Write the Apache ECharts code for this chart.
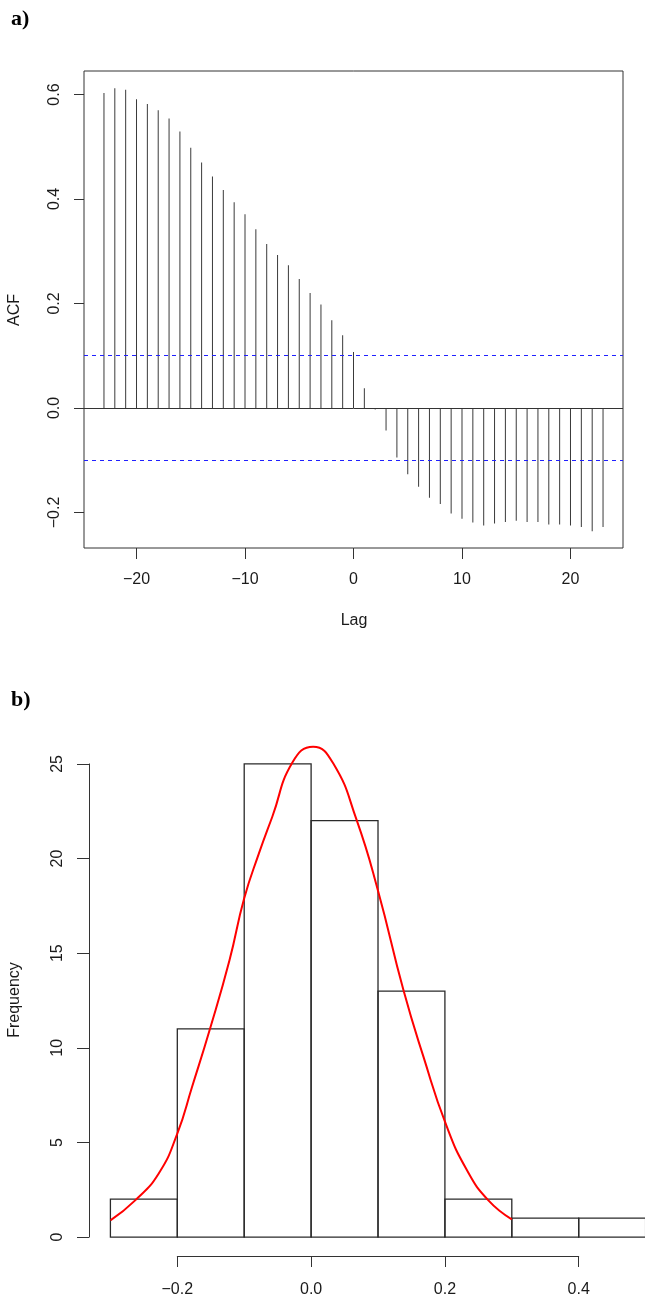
<!DOCTYPE html>
<html>
<head>
<meta charset="utf-8">
<script src="https://cdn.jsdelivr.net/npm/echarts@6/dist/echarts.min.js"></script>
<style>
html, body { margin: 0; padding: 0; background: #fff; }
#chart { width: 645px; height: 1301px; }
</style>
</head>
<body>
<div id="chart"></div>
<script>
// a) ACF panel
var lags = [-23,-22,-21,-20,-19,-18,-17,-16,-15,-14,-13,-12,-11,-10,-9,-8,-7,-6,-5,-4,-3,-2,-1,0,
            1,2,3,4,5,6,7,8,9,10,11,12,13,14,15,16,17,18,19,20,21,22,23];
var acfValues = [0.603,0.612,0.609,0.591,0.582,0.570,0.554,0.529,0.498,0.470,0.443,0.417,0.394,0.371,
                 0.342,0.314,0.293,0.273,0.247,0.220,0.198,0.168,0.139,0.107,
                 0.038,-0.003,-0.043,-0.095,-0.127,-0.151,-0.172,-0.184,-0.202,-0.212,-0.219,-0.225,
                 -0.221,-0.218,-0.216,-0.218,-0.218,-0.223,-0.223,-0.225,-0.228,-0.236,-0.228];
var ciBound = 0.097;
var lagTicks = [-20, -10, 0, 10, 20];
var acfTicks = [-0.2, 0, 0.2, 0.4, 0.6];

// b) histogram panel
var binEdges = [-0.3, -0.2, -0.1, 0, 0.1, 0.2, 0.3, 0.4, 0.5];
var binCounts = [2, 11, 25, 22, 13, 2, 1, 1];
var curveX = [-0.300,-0.263,-0.228,-0.200,-0.178,-0.151,-0.122,-0.100,-0.078,-0.058,-0.028,
              0.003,0.033,0.068,0.100,0.138,0.168,0.202,0.233,0.265,0.300];
var curveY = [0.88,1.94,3.35,5.47,7.93,11.02,14.63,17.9,20.27,22.21,25.07,
              25.91,25.03,22.04,18.3,13.05,9.52,5.91,3.53,1.94,0.94];
var freqTicks = [0, 5, 10, 15, 20, 25];
var residTicks = [-0.2, 0, 0.2, 0.4];

var txtColor = '#1a1a1a';
var lineColor = '#333';
var sans = '"Liberation Sans", Arial, sans-serif';

var fmtNum = function (v, d) {
	if (Math.abs(v) < 1e-9) v = 0;
	var s = d === undefined ? String(v) : v.toFixed(d);
	return s.replace('-', '\u2212');
};

// histogram plot region (R style, 4% padding); the picture is cut at the right edge
var pxPerUnit = 669;
var hx = { left: 89, width: 556, min: -0.332 };
hx.max = hx.min + hx.width / pxPerUnit;
var hy = { top: 745, height: 511, min: -1, max: 26 };
var px = function (v) { return hx.left + (v - hx.min) * pxPerUnit; };
var py = function (v) { return hy.top + (hy.max - v) / (hy.max - hy.min) * hy.height; };

var histData = [];
for (var i = 0; i < binCounts.length; i++) {
	histData.push([binEdges[i], binEdges[i + 1], binCounts[i]]);
}
var curveData = [];
for (var j = 0; j < curveX.length; j++) {
	curveData.push([curveX[j], curveY[j]]);
}
var acfData = [];
for (var k = 0; k < lags.length; k++) {
	acfData.push([lags[k], acfValues[k]]);
}

var chart = echarts.init(document.getElementById('chart'), null, { renderer: 'canvas' });
var option = {
	animation: false,
	backgroundColor: '#fff',
	textStyle: { fontFamily: sans, color: txtColor },
	grid: [
		{ left: 84, top: 71, width: 539, height: 477, show: true, borderColor: lineColor, borderWidth: 1, backgroundColor: 'transparent' },
		{ left: hx.left, top: hy.top, width: hx.width, height: hy.height },
		{ left: hx.left, top: py(25), width: 10, height: py(0) - py(25) },
		{ left: px(-0.2), top: py(-1) - 50, width: px(0.4) - px(-0.2), height: 50 }
	],
	xAxis: [
		{
			gridIndex: 0, type: 'value', min: -24.84, max: 24.84,
			axisLine: { show: false, onZero: false },
			axisTick: { show: true, length: 11, customValues: lagTicks, lineStyle: { color: lineColor } },
			axisLabel: { customValues: lagTicks, margin: 24, fontSize: 16, color: txtColor, fontFamily: sans,
				formatter: function (v) { return fmtNum(v); } },
			splitLine: { show: false }
		},
		{ gridIndex: 1, type: 'value', min: hx.min, max: hx.max, show: false, axisLine: { onZero: false }, splitLine: { show: false } },
		{ gridIndex: 2, type: 'value', min: 0, max: 1, show: false, axisLine: { onZero: false } },
		{
			gridIndex: 3, type: 'value', min: -0.2, max: 0.4, interval: 0.2, position: 'bottom',
			axisLine: { show: true, onZero: false, lineStyle: { color: lineColor, width: 1 } },
			axisTick: { show: true, length: 11, lineStyle: { color: lineColor } },
			axisLabel: { margin: 26, fontSize: 16, color: txtColor, fontFamily: sans,
				formatter: function (v) { return fmtNum(v, 1); } },
			splitLine: { show: false }
		}
	],
	yAxis: [
		{
			gridIndex: 0, type: 'value', min: -0.268, max: 0.645,
			axisLine: { show: false, onZero: false },
			axisTick: { show: true, length: 10, customValues: acfTicks, lineStyle: { color: lineColor } },
			axisLabel: { customValues: acfTicks, rotate: 90, margin: 21, fontSize: 16, color: txtColor, fontFamily: sans,
				formatter: function (v) { return fmtNum(v, 1); } },
			splitLine: { show: false }
		},
		{ gridIndex: 1, type: 'value', min: hy.min, max: hy.max, show: false, axisLine: { onZero: false }, splitLine: { show: false } },
		{
			gridIndex: 2, type: 'value', min: 0, max: 25, interval: 5,
			axisLine: { show: true, onZero: false, lineStyle: { color: lineColor, width: 1 } },
			axisTick: { show: true, length: 12, lineStyle: { color: lineColor } },
			axisLabel: { rotate: 90, margin: 23, fontSize: 16, color: txtColor, fontFamily: sans },
			splitLine: { show: false }
		},
		{ gridIndex: 3, type: 'value', min: 0, max: 1, show: false, axisLine: { onZero: false } }
	],
	series: [
		{
			type: 'bar',
			xAxisIndex: 0, yAxisIndex: 0,
			data: acfData,
			barWidth: 1,
			itemStyle: { color: '#3a3a3a' },
			silent: true,
			markLine: {
				silent: true,
				symbol: 'none',
				label: { show: false },
				data: [
					{ yAxis: 0, lineStyle: { color: lineColor, width: 1, type: 'solid' } },
					{ yAxis: ciBound, lineStyle: { color: '#2020ff', width: 1, type: [4, 4] } },
					{ yAxis: -ciBound, lineStyle: { color: '#2020ff', width: 1, type: [4, 4] } }
				]
			}
		},
		{
			type: 'custom',
			xAxisIndex: 1, yAxisIndex: 1,
			data: histData,
			encode: { x: [0, 1], y: 2 },
			silent: true,
			renderItem: function (params, api) {
				var p1 = api.coord([api.value(0), api.value(2)]);
				var p2 = api.coord([api.value(1), 0]);
				return {
					type: 'rect',
					shape: { x: p1[0], y: p1[1], width: p2[0] - p1[0], height: p2[1] - p1[1] },
					style: { fill: 'none', stroke: '#2a2a2a', lineWidth: 1.3 }
				};
			}
		},
		{
			type: 'line',
			xAxisIndex: 1, yAxisIndex: 1,
			data: curveData,
			smooth: 0.5,
			showSymbol: false,
			silent: true,
			lineStyle: { color: '#ff0000', width: 2 }
		}
	],
	graphic: [
		{ type: 'text', x: 11, y: 19, style: { text: 'a)', font: 'bold 22px "Liberation Serif", "Times New Roman", serif', fill: '#000', align: 'left', verticalAlign: 'middle', textAlign: 'left', textVerticalAlign: 'middle' } },
		{ type: 'text', x: 11, y: 700, style: { text: 'b)', font: 'bold 22px "Liberation Serif", "Times New Roman", serif', fill: '#000', align: 'left', verticalAlign: 'middle', textAlign: 'left', textVerticalAlign: 'middle' } },
		{ type: 'text', x: 15, y: 310, rotation: Math.PI / 2, style: { text: 'ACF', font: '16px ' + sans, fill: txtColor, align: 'center', verticalAlign: 'middle', textAlign: 'center', textVerticalAlign: 'middle' } },
		{ type: 'text', x: 354, y: 621, style: { text: 'Lag', font: '16px ' + sans, fill: txtColor, align: 'center', verticalAlign: 'middle', textAlign: 'center', textVerticalAlign: 'middle' } },
		{ type: 'text', x: 15, y: 1000, rotation: Math.PI / 2, style: { text: 'Frequency', font: '16px ' + sans, fill: txtColor, align: 'center', verticalAlign: 'middle', textAlign: 'center', textVerticalAlign: 'middle' } }
	]
};
chart.setOption(option);
</script>
</body>
</html>
